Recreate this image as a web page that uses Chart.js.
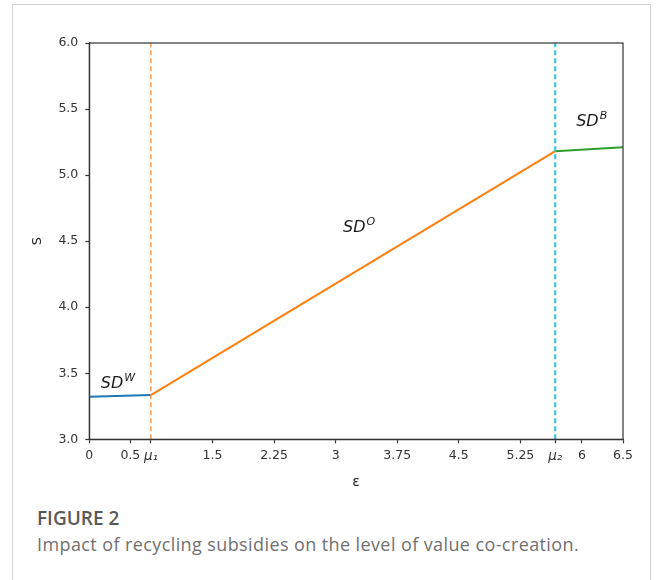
<!DOCTYPE html>
<html>
<head>
<meta charset="utf-8">
<script src="https://cdn.jsdelivr.net/npm/chart.js@4/dist/chart.umd.min.js"></script>
<style>
  html, body { margin: 0; padding: 0; background: #fff; }
  body { width: 656px; height: 580px; position: relative; overflow: hidden; }
  #frame { position: absolute; left: 12px; top: 4px; width: 639px; height: 600px;
           border: 1px solid #d3d3d3; border-bottom: none; box-sizing: border-box; }
  #plot { position: absolute; left: 0; top: 0; width: 656px; height: 500px; }
  #caption { position: absolute; left: 37px; top: 505px; font-family: "Open Sans", sans-serif; }
  #caption .fig { font-size: 19px; font-weight: 600; color: #595959; line-height: 26px; }
  #caption .txt { font-size: 18px; color: #707070; letter-spacing: 0.4px; line-height: 26px; }
</style>
</head>
<body>
<div id="frame"></div>
<div id="plot"><canvas id="chart" width="656" height="500"></canvas></div>
<div id="caption">
  <div class="fig">FIGURE 2</div>
  <div class="txt">Impact of recycling subsidies on the level of value co-creation.</div>
</div>
<script>
// Thresholds on the ε axis
const mu1 = 0.75;
const mu2 = 5.675;

// Axis ticks
const xTickValues = [0, 0.5, mu1, 1.5, 2.25, 3, 3.75, 4.5, 5.25, mu2, 6, 6.5];
const xTickLabels = ['0', '0.5', 'μ₁', '1.5', '2.25', '3', '3.75', '4.5', '5.25', 'μ₂', '6', '6.5'];
const yTickValues = [3.0, 3.5, 4.0, 4.5, 5.0, 5.5, 6.0];

// S over the three regimes
const sdW = [{ x: 0, y: 3.322 }, { x: mu1, y: 3.335 }];
const sdO = [{ x: mu1, y: 3.335 }, { x: mu2, y: 5.181 }];
const sdB = [{ x: mu2, y: 5.181 }, { x: 6.5, y: 5.211 }];

// Regime labels: [main, superscript, x, y]
const regimeLabels = [
  ['SD', 'W', 0.14, 3.42],
  ['SD', 'O', 3.09, 4.60],
  ['SD', 'B', 5.93, 5.40]
];

const vline = (x) => [{ x: x, y: 3 }, { x: x, y: 6 }];

const boxPlugin = {
  id: 'box',
  afterDatasetsDraw(chart) {
    const { ctx, chartArea: a, scales } = chart;
    ctx.save();
    ctx.strokeStyle = '#333';
    ctx.lineWidth = 1.2;
    ctx.strokeRect(a.left, a.top, a.right - a.left, a.bottom - a.top);
    // regime labels
    ctx.fillStyle = '#1a1a1a';
    ctx.textBaseline = 'middle';
    regimeLabels.forEach(([main, sup, x, y]) => {
      const px = scales.x.getPixelForValue(x);
      const py = scales.y.getPixelForValue(y);
      ctx.font = 'italic 16px "DejaVu Sans"';
      ctx.fillText(main, px, py);
      const w = ctx.measureText(main).width;
      ctx.font = 'italic 11px "DejaVu Sans"';
      ctx.fillText(sup, px + w + 1, py - 6);
    });
    ctx.restore();
  }
};

new Chart(document.getElementById('chart'), {
  type: 'scatter',
  data: {
    datasets: [
      { data: vline(mu1), borderColor: '#ff8c2e', borderWidth: 1.3, borderDash: [5, 3] },
      { data: vline(mu2), borderColor: '#18c8ec', borderWidth: 2, borderDash: [5, 3] },
      { data: sdW, borderColor: '#1f77b4', borderWidth: 2 },
      { data: sdO, borderColor: '#ff7f0e', borderWidth: 2 },
      { data: sdB, borderColor: '#2ca02c', borderWidth: 2 }
    ].map(d => Object.assign({ showLine: true, pointRadius: 0, pointHoverRadius: 0, fill: false, tension: 0 }, d))
  },
  options: {
    responsive: false,
    animation: false,
    events: [],
    layout: { padding: { left: 0, right: 33, top: 43, bottom: 0 } },
    plugins: { legend: { display: false }, tooltip: { enabled: false } },
    scales: {
      x: {
        type: 'linear', min: 0, max: 6.5,
        afterBuildTicks(scale) { scale.ticks = xTickValues.map(v => ({ value: v })); },
        afterFit(scale) { scale.height = 500 - 439.3; },
        ticks: {
          autoSkip: false, maxRotation: 0, padding: 5, color: '#333',
          font: (ctx) => {
            const isMu = String(xTickLabels[ctx.index] || '').startsWith('μ');
            return { family: 'DejaVu Sans', size: isMu ? 13.5 : 12.5, style: isMu ? 'italic' : 'normal' };
          },
          callback: (v, i) => xTickLabels[i]
        },
        grid: { drawOnChartArea: false, drawTicks: true, tickLength: 4, color: '#333', tickWidth: 1.2 },
        border: { display: true, color: '#333', width: 1.2 },
        title: { display: true, text: 'ε', color: '#222', font: { family: 'DejaVu Sans', size: 14 }, padding: { top: 0, bottom: 9 } }
      },
      y: {
        type: 'linear', min: 3, max: 6,
        afterBuildTicks(scale) { scale.ticks = yTickValues.map(v => ({ value: v })); },
        afterFit(scale) { scale.width = 89.3; },
        ticks: {
          padding: 7, color: '#333', font: { family: 'DejaVu Sans', size: 12.5 },
          callback: (v) => Number(v).toFixed(1)
        },
        grid: { drawOnChartArea: false, drawTicks: true, tickLength: 4, color: '#333', tickWidth: 1.2 },
        border: { display: true, color: '#333', width: 1.2 },
        title: { display: true, text: 'S', color: '#222', font: { family: 'DejaVu Sans', size: 13 }, padding: { top: 30, bottom: 0 } }
      }
    }
  },
  plugins: [boxPlugin]
});
</script>
</body>
</html>
